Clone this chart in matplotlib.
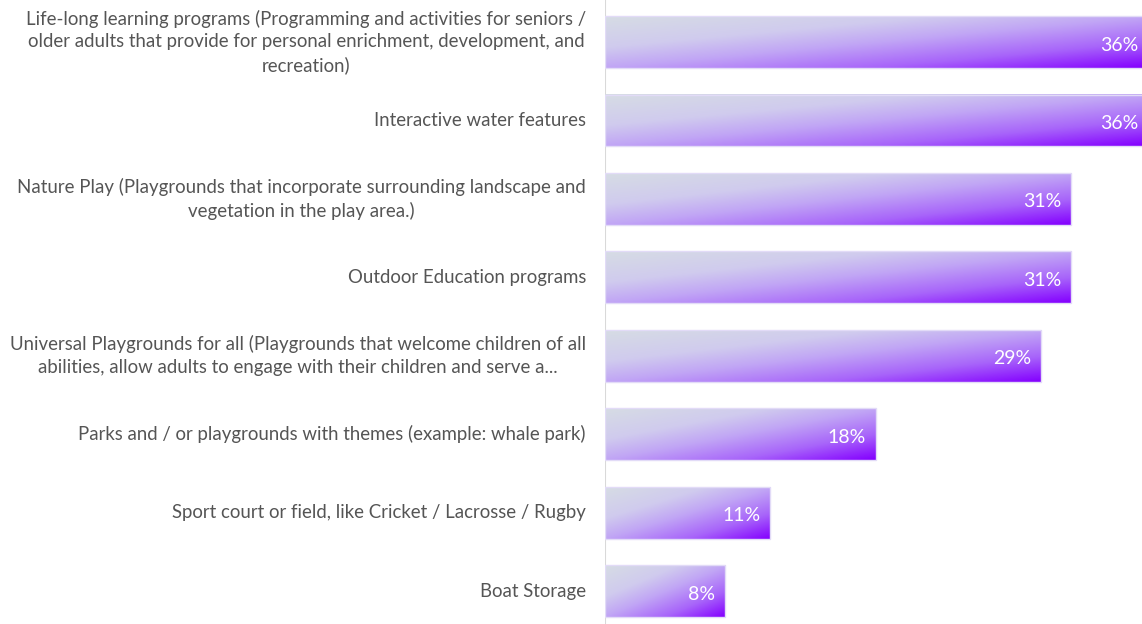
import numpy as np
import matplotlib.pyplot as plt
from matplotlib.colors import LinearSegmentedColormap

labels = [
    "Life-long learning programs (Programming and activities for seniors /\n"
    "older adults that provide for personal enrichment, development, and\n"
    "recreation)",
    "Interactive water features",
    "Nature Play (Playgrounds that incorporate surrounding landscape and\n"
    "vegetation in the play area.)",
    "Outdoor Education programs",
    "Universal Playgrounds for all (Playgrounds that welcome children of all\n"
    "abilities, allow adults to engage with their children and serve a...",
    "Parks and / or playgrounds with themes (example: whale park)",
    "Sport court or field, like Cricket / Lacrosse / Rugby",
    "Boat Storage",
]
values = [36, 36, 31, 31, 29, 18, 11, 8]

plt.rcParams['font.family'] = ['Lato', 'DejaVu Sans']

# diagonal gradient: grey-blue top-left -> violet bottom-right
cmap = LinearSegmentedColormap.from_list(
    "bars", [(0, "#d6dce4"), (0.3, "#d0cbee"), (0.5, "#c1a6f5"),
             (0.75, "#a865fa"), (1.0, "#8400ff")])

xmax = 35.7
fig = plt.figure(figsize=(11.42, 6.24), dpi=100)
ax = fig.add_axes([605 / 1142, 0, 1 - 605 / 1142, 1])

bar_h = 0.66
u = np.linspace(0, 1, 200)[None, :]
v = np.linspace(0, 1, 40)[:, None]
grad = (u + v) / 2

for i, (lab, val) in enumerate(zip(labels, values)):
    top = i - bar_h / 2
    bot = i + bar_h / 2
    ax.imshow(grad, cmap=cmap, vmin=0, vmax=1, aspect='auto',
              extent=[0, val, bot, top], interpolation='bilinear', zorder=2)
    ax.add_patch(plt.Rectangle((0, top), val, bar_h, fill=False,
                               edgecolor="#e2dbf7", lw=1, zorder=3))
    # bars running past the edge get their label just inside the edge
    xend = min(val, xmax)
    off = -4 if val > xmax else -10
    ax.annotate(f"{val}%", xy=(xend, i), xytext=(off, -3), textcoords='offset pixels',
                ha='right', va='center', color='white', fontsize=14, zorder=4)
    ax.annotate(lab, xy=(0, i), xytext=(-19, 0), textcoords='offset pixels',
                ha='right', va='center', multialignment='center',
                color='#555555', fontsize=13.4, linespacing=1.42,
                annotation_clip=False)

ax.set_xlim(0, xmax)
ax.set_ylim(7.42, -0.536)
ax.axis('off')
ax.axvline(0, color='#d9d9d9', lw=1.5, zorder=1)

fig.savefig("out.png", dpi=100)
